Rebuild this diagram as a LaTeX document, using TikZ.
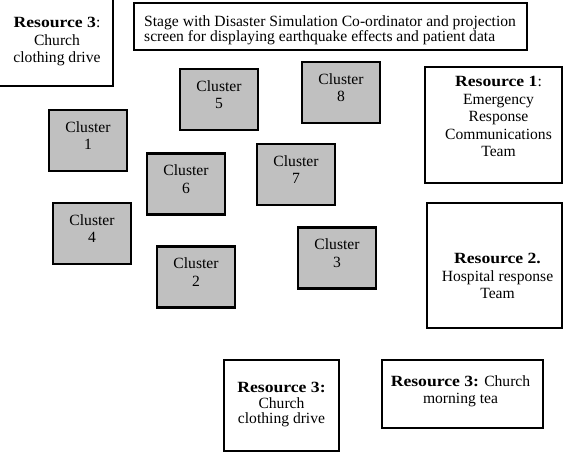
\documentclass[tikz,border=0pt]{standalone}
\usepackage{fontspec}
\setmainfont{Liberation Serif}[BoldFeatures={FakeStretch=1.13}]
\usetikzlibrary{positioning}
\definecolor{clgrey}{HTML}{C0C0C0}

\begin{document}
\begin{tikzpicture}[x=1pt,y=-1pt,
          frame/.style={draw=black,line width=2.6pt,fill=white,
                        inner sep=0pt,outer sep=0pt},
          cluster/.style={frame,fill=clgrey,minimum width=78pt,minimum height=61pt},
          lbl/.style={align=center,inner sep=0pt,anchor=north,
                      font=\fontsize{15.6}{17.5}\selectfont},
          stagelbl/.style={align=left,inner sep=0pt,anchor=north west,
                      font=\fontsize{15.6}{15.5}\selectfont}]
        \useasboundingbox (0,0) rectangle (567,452);
        % stage and resources
        \node[frame,minimum width=393pt,minimum height=47pt] (stage) at (330.5,26.5) {};
        \node[stagelbl,below right=12pt and 10pt of stage.north west] (stagetxt)
          {Stage with Disaster Simulation Co-ordinator and projection\\
           screen for displaying earthquake effects and patient data};
        \node[frame,minimum width=116pt,minimum height=89pt] (resthree) at (55,41.5) {};
        \node[lbl,below=20pt of resthree.north,xshift=2pt] (resthreetxt)
          {\textbf{Resource 3}:\\Church\\clothing drive};
        \node[frame,minimum width=137pt,minimum height=116pt] (resone) at (493.5,125) {};
        \node[lbl,below=9pt of resone.north,xshift=5pt] (resonetxt)
          {\textbf{Resource 1}:\\Emergency\\Response\\Communications\\Team};
        \node[frame,minimum width=135pt,minimum height=125pt] (restwo) at (494.5,265.5) {};
        \node[lbl,below=50pt of restwo.north,xshift=3pt] (restwotxt)
          {\textbf{Resource 2.}\\Hospital response\\Team};
        \node[frame,minimum width=115pt,minimum height=91pt] (resclothes) at (281.5,405.5) {};
        \node[lbl,below=22pt of resclothes.north,font=\fontsize{15.6}{15.5}\selectfont]
          (resclothestxt) {\textbf{Resource 3:}\\Church\\clothing drive};
        \node[frame,minimum width=161pt,minimum height=68pt] (restea) at (462.5,394) {};
        \node[lbl,below=15pt of restea.north,xshift=-2pt] (resteatxt)
          {\textbf{Resource 3:} Church\\morning tea};
        % clusters
        \foreach \n/\x/\y in {1/88/140.5,2/196/277,3/337/258,4/92/233.5,
                              5/219/99.5,6/186/184,7/296/174.5,8/341/92.5}{
          \node[cluster] (cl\n) at (\x,\y) {};
          \node[lbl,below=11pt of cl\n.north] (cl\n txt) {Cluster\\\n};
        }
      \end{tikzpicture}
\end{document}
